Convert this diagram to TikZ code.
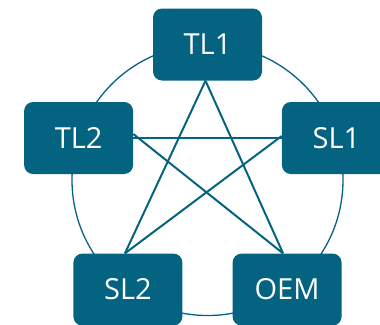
\documentclass[tikz,border=0pt]{standalone}
\usepackage{fontspec}
\setmainfont{Open Sans}
\definecolor{teal1}{RGB}{4,99,128}
\begin{document}
\begin{tikzpicture}[x=1pt,y=-1pt,
  box/.style={fill=teal1, rounded corners=9pt, minimum width=109pt, minimum height=72pt, inner sep=0pt, text=white, font=\fontsize{29}{30}\selectfont},
  ring/.style={draw=teal1, line width=1.3pt},
  link/.style={draw=teal1, line width=2pt}]
\useasboundingbox (0,0) rectangle (380,324);
\clip (0,0) rectangle (380,324);
\coordinate (c) at (207.5,180);
\draw[ring] (c) circle (135.5);
\node[box] (tl1) at (207.5,44.5) {TL1};
\node[box] (tl2) at (78.6,138) {TL2};
\node[box] (sl1) at (336.4,138) {SL1};
\node[box] (sl2) at (127.9,289.6) {SL2};
\node[box] (oem) at (287.1,289.6) {OEM};
\draw[link] ([xshift=-2pt]tl1.south) -- ([xshift=-3pt]sl2.north);
\draw[link] ([xshift=-2pt]tl1.south) -- ([xshift=-4pt]oem.north);
\draw[link] (tl2.east) -- (sl1.west);
\draw[link] ([yshift=4pt]tl2.east) -- ([xshift=-4pt]oem.north);
\draw[link] ([yshift=2pt]sl1.west) -- ([xshift=-3pt]sl2.north);
\end{tikzpicture}
\end{document}
